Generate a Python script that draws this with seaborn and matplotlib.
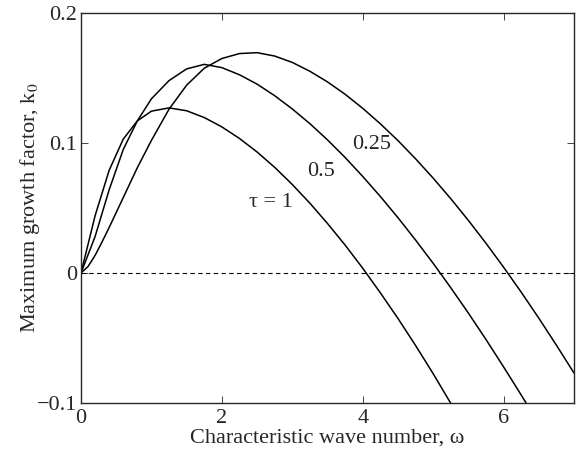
import numpy as np
import pandas as pd
import matplotlib
matplotlib.use('Agg')
import matplotlib.pyplot as plt
import seaborn as sns

# values
omega_1 = [0, 0.2, 0.4, 0.6, 0.8, 1.0, 1.25, 1.5, 1.75, 2.0, 2.25, 2.5, 2.75, 3.0,
           3.25, 3.5, 3.75, 4.0, 4.25, 4.5, 4.75, 5.0, 5.25, 5.4]
k_1 = [0, 0.044, 0.079, 0.103, 0.117, 0.1245, 0.127, 0.1248, 0.1196, 0.1124, 0.1035,
       0.0931, 0.0813, 0.0681, 0.0537, 0.0381, 0.0215, 0.0037, -0.0152, -0.0349,
       -0.0557, -0.0774, -0.1002, -0.114]

omega_05 = [0, 0.2, 0.4, 0.6, 0.8, 1.0, 1.25, 1.5, 1.75, 2.0, 2.25, 2.5, 2.75, 3.0,
            3.25, 3.5, 3.75, 4.0, 4.25, 4.5, 4.75, 5.0, 5.25, 5.5, 5.75, 6.0, 6.25, 6.5]
k_05 = [0, 0.028, 0.064, 0.095, 0.117, 0.134, 0.148, 0.157, 0.1605, 0.158, 0.1525,
        0.1453, 0.1364, 0.1262, 0.1149, 0.1024, 0.0889, 0.0743, 0.0589, 0.0426, 0.0254,
        0.0075, -0.0113, -0.0308, -0.0511, -0.0722, -0.0938, -0.1161]

omega_025 = [0, 0.1, 0.2, 0.3, 0.4, 0.6, 0.8, 1.0, 1.25, 1.5, 1.75, 2.0, 2.25, 2.5, 2.75,
             3.0, 3.25, 3.5, 3.75, 4.0, 4.25, 4.5, 4.75, 5.0, 5.25, 5.5, 5.75, 6.0,
             6.25, 6.5, 6.75, 7.0]
k_025 = [0, 0.005, 0.0135, 0.024, 0.035, 0.058, 0.081, 0.102, 0.126, 0.1445, 0.1575,
         0.165, 0.1688, 0.1695, 0.1669, 0.162, 0.1552, 0.147, 0.1375, 0.1267, 0.1148,
         0.1019, 0.0879, 0.073, 0.0572, 0.0405, 0.0229, 0.0045, -0.0147, -0.0347,
         -0.0555, -0.0769]

tau_labels = ['\u03c4 = 1', '0.5', '0.25']
label_omega = [2.70, 3.41, 4.12]
label_k = [0.0546, 0.078, 0.0992]

df = pd.concat([
    pd.DataFrame({'omega': omega_1, 'k': k_1, 'tau': '1'}),
    pd.DataFrame({'omega': omega_05, 'k': k_05, 'tau': '0.5'}),
    pd.DataFrame({'omega': omega_025, 'k': k_025, 'tau': '0.25'}),
])

sns.set_style('ticks')
plt.rcParams['font.family'] = ['Liberation Serif', 'DejaVu Serif']
plt.rcParams['mathtext.fontset'] = 'stix'

fig = plt.figure(figsize=(5.76, 4.55), dpi=100)
ax = fig.add_axes([0.1406, 0.1143, 0.8559, 0.8571])

sns.lineplot(data=df, x='omega', y='k', hue='tau', palette=['black'] * 3,
             sort=False, legend=False, linewidth=1.1, ax=ax)
ax.axhline(0, color='black', linestyle=(0, (4, 3)), linewidth=0.8)

for txt, xo, yo in zip(tau_labels, label_omega, label_k):
    ax.text(xo, yo, txt, fontsize=16, ha='center', va='center')

ax.set_xlim(0, 7)
ax.set_ylim(-0.1, 0.2)
ax.set_xticks([0, 2, 4, 6])
ax.set_yticks([-0.1, 0, 0.1, 0.2])
ax.set_xticklabels(['0', '2', '4', '6'])
ax.set_yticklabels(['\u22120.1', '0', '0.1', '0.2'])
ax.tick_params(direction='in', length=5, width=0.6, labelsize=16,
               top=True, right=True, pad=3)
ax.tick_params(axis='x', pad=4)
for s in ax.spines.values():
    s.set_linewidth(1.0)
ax.set_xlabel('Characteristic wave number, \u03c9', fontsize=16, labelpad=1)
ax.set_ylabel('Maximum growth factor, k$_0$', fontsize=16, labelpad=-4)

fig.savefig('out.png', dpi=100)
